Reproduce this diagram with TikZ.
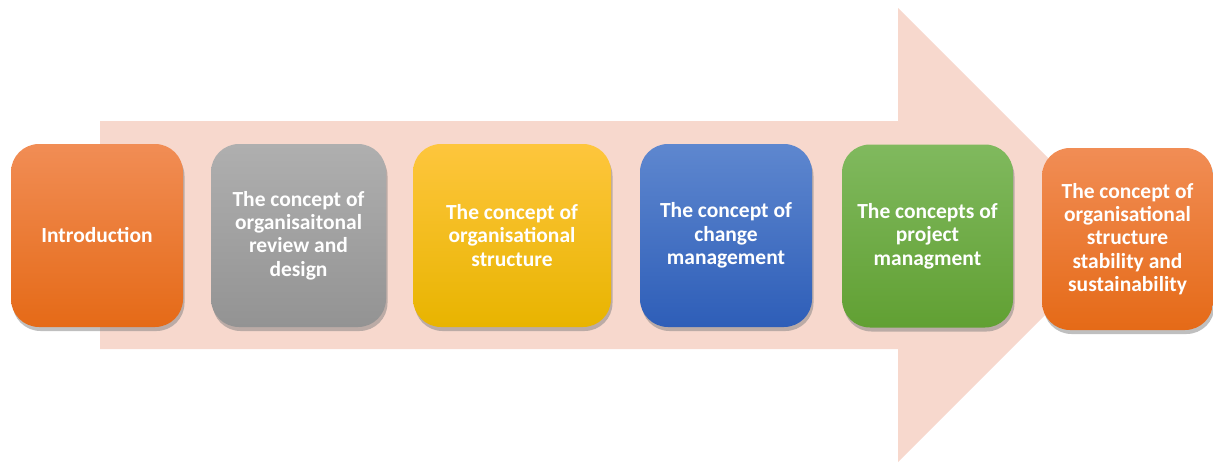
\documentclass[tikz,border=0pt]{standalone}
\usepackage{fontspec}
\setmainfont{Carlito}
\usetikzlibrary{shadows}
\definecolor{arrowpink}{HTML}{F7D8CD}
\definecolor{orT}{HTML}{F18D55}
\definecolor{orB}{HTML}{E56A17}
\definecolor{grT}{HTML}{AFAFAF}
\definecolor{grB}{HTML}{939393}
\definecolor{yeT}{HTML}{FEC63D}
\definecolor{yeB}{HTML}{E8B400}
\definecolor{blT}{HTML}{5E87CF}
\definecolor{blB}{HTML}{2E5EB8}
\definecolor{gnT}{HTML}{80B95E}
\definecolor{gnB}{HTML}{61A033}
\tikzset{
  stepbox/.style={rounded corners=28pt, minimum width=#1, minimum height=183pt,
    align=center, text=white, font=\fontsize{21.5}{23.3}\selectfont\bfseries,
    inner sep=0pt,
    drop shadow={opacity=0.5, shadow xshift=1.5pt, shadow yshift=-4pt}},
}
\begin{document}
\begin{tikzpicture}[x=1pt,y=-1pt]
\useasboundingbox (0,0) rectangle (1213,463);
% big arrow
\fill[arrowpink] (100,121) -- (898,121) -- (898,8) -- (1125,235) -- (898,462) -- (898,349) -- (100,349) -- cycle;
% boxes
\node[stepbox=172pt, top color=orT, bottom color=orB] (intro) at (97,235.5) {Introduction};
\node[stepbox=175pt, top color=grT, bottom color=grB] (review) at (298.5,235.5) {The concept of\\organisaitonal\\review and\\design};
\node[stepbox=198pt, top color=yeT, bottom color=yeB] (struct) at (512,235.5) {The concept of\\organisational\\structure};
\node[stepbox=172pt, top color=blT, bottom color=blB] (change) at (726,235.5) {The concept of\\change\\management};
\node[stepbox=171pt, top color=gnT, bottom color=gnB] (project) at (927.5,236) {The concepts of\\project\\managment};
\node[stepbox=171pt, minimum height=182pt, top color=orT, bottom color=orB] (stab) at (1127.5,239) {The concept of\\organisational\\structure\\stability and\\sustainability};
\end{tikzpicture}
\end{document}
